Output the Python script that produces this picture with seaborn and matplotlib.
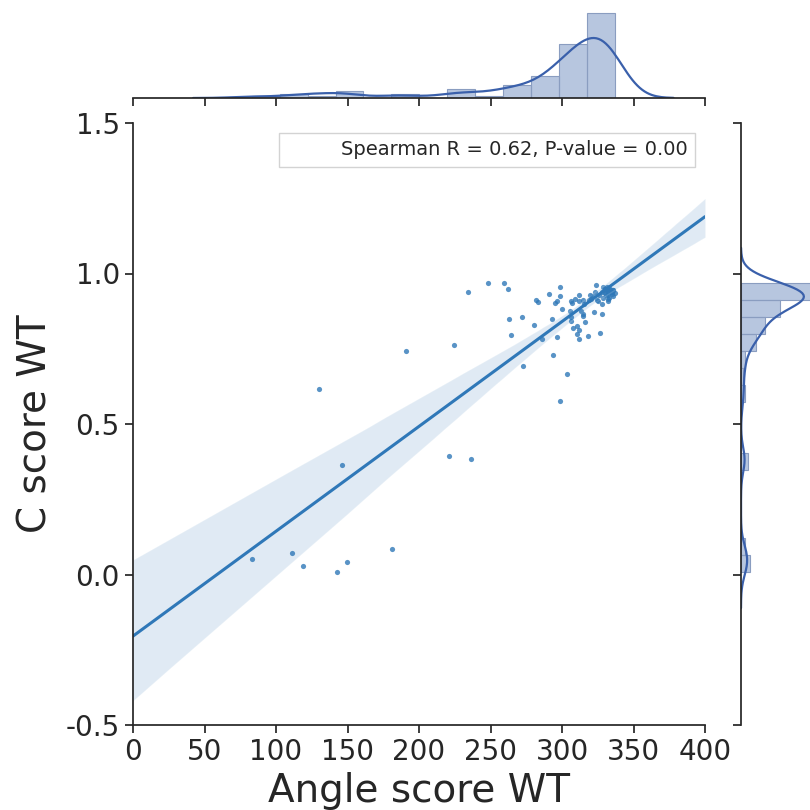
import numpy as np
import pandas as pd
import matplotlib
matplotlib.use("Agg")
import matplotlib.pyplot as plt
from matplotlib.lines import Line2D
import seaborn as sns

angle_wt = [83.0, 111.2, 119.1, 129.9, 142.9, 146.2, 149.4, 181.1, 190.7, 221.0,
            224.5, 234.3, 236.4, 248.0, 259.2, 262.2, 262.9, 264.1, 272.2, 272.5,
            280.2, 281.6, 283.4, 285.8, 290.9, 293.2, 293.9, 295.1, 296.5, 298.6,
            298.3, 296.5, 298.5, 299.8, 303.7, 305.4, 306.1, 306.3, 306.3, 307.2,
            307.9, 310.3, 311.7, 310.3, 311.9, 312.1, 311.9, 314.9, 313.3, 314.5,
            314.7, 316.3, 318.0, 318.9, 320.1, 322.4, 323.3, 323.6, 324.3, 325.0,
            326.4, 327.8, 327.8, 328.7, 329.9, 330.8, 331.9, 332.9, 334.7, 335.4,
            330.1, 332.2, 331.9, 332.4, 335.9, 334.7, 309.0, 315.5, 326.0, 328.0,
            329.0, 330.0, 331.0, 331.5, 332.5, 333.0, 333.5, 334.0, 336.0, 337.0,
            321.0, 319.5]
c_wt = [0.050, 0.072, 0.029, 0.616, 0.007, 0.365, 0.041, 0.085, 0.742, 0.394,
        0.761, 0.940, 0.384, 0.967, 0.967, 0.950, 0.850, 0.796, 0.854, 0.692,
        0.828, 0.913, 0.904, 0.783, 0.933, 0.850, 0.729, 0.903, 0.909, 0.925,
        0.955, 0.789, 0.576, 0.882, 0.667, 0.875, 0.856, 0.843, 0.909, 0.901,
        0.820, 0.826, 0.812, 0.799, 0.783, 0.930, 0.909, 0.912, 0.876, 0.865,
        0.859, 0.840, 0.791, 0.912, 0.914, 0.872, 0.939, 0.962, 0.912, 0.908,
        0.802, 0.899, 0.864, 0.955, 0.948, 0.945, 0.942, 0.948, 0.938, 0.945,
        0.935, 0.928, 0.908, 0.916, 0.924, 0.932, 0.915, 0.900, 0.930, 0.940,
        0.920, 0.950, 0.930, 0.955, 0.935, 0.920, 0.950, 0.940, 0.945, 0.935,
        0.925, 0.930]
annotation = "Spearman R = 0.62, P-value = 0.00"
x_label = "Angle score WT"
y_label = "C score WT"
x_ticks = [0, 50, 100, 150, 200, 250, 300, 350, 400]
y_ticks = [-0.5, 0.0, 0.5, 1.0, 1.5]
y_ticklabels = ["-0.5", "0.0", "0.5", "1.0", "1.5"]

df = pd.DataFrame({x_label: angle_wt, y_label: c_wt})

sns.set_style("ticks")
plt.rcParams["font.family"] = ["DejaVu Sans"]
plt.rcParams["axes.edgecolor"] = ".15"
plt.rcParams["axes.linewidth"] = 1.25
plt.rcParams["xtick.color"] = ".15"
plt.rcParams["ytick.color"] = ".15"

reg_color = "#2f78b8"
marg_color = "#4C72B0"
kde_color = "#3a60ab"

W = H = 810
fig = plt.figure(figsize=(8.1, 8.1), dpi=100)

def box(l, t, r, b):
    return [l / W, 1 - b / H, (r - l) / W, (b - t) / H]

ax = fig.add_axes(box(133, 123, 705, 725))
axx = fig.add_axes(box(133, 9, 705, 98))
axy = fig.add_axes(box(741, 123, 837, 725))

ax.set_xlim(0, 400)
ax.set_ylim(-0.5, 1.5)
sns.regplot(data=df, x=x_label, y=y_label, ax=ax, truncate=False,
            color=reg_color, seed=3,
            scatter_kws=dict(s=14, linewidths=0),
            line_kws=dict(lw=2.2))
ax.set_xlim(0, 400)
ax.set_ylim(-0.5, 1.5)
ax.set_xticks(x_ticks)
ax.set_yticks(y_ticks)
ax.set_xticklabels([str(t) for t in x_ticks])
ax.set_yticklabels(y_ticklabels)
ax.tick_params(labelsize=20, length=6, width=1.25, direction="out")
ax.set_xlabel(x_label, fontsize=28, labelpad=4)
ax.set_ylabel(y_label, fontsize=28)
ax.yaxis.set_label_coords(-0.138, 0.5)
sns.despine(ax=ax)

leg = ax.legend([Line2D([], [], linewidth=0)], [annotation], loc="upper right",
                fontsize=14, fancybox=False, frameon=True, borderpad=0.4,
                handlelength=2.0)
leg.get_frame().set_edgecolor("#c8c8c8")
leg.get_frame().set_linewidth(1.0)


def scott_factor(v):
    v = np.asarray(v)
    sd = v.std(ddof=1)
    iqr = np.subtract(*np.percentile(v, [75, 25]))
    a = min(sd, iqr / 1.349)
    return 1.059 * a * len(v) ** (-0.2) / sd


# top marginal
sns.histplot(x=df[x_label], bins=13, stat="density", ax=axx, color=marg_color,
             alpha=0.4, edgecolor="#8a9dc0", linewidth=0.8)
sns.kdeplot(x=df[x_label], ax=axx, color=kde_color, lw=1.6, cut=3,
            bw_method=scott_factor(angle_wt))
axx.set_xlim(0, 400)
axx.set_xticks(x_ticks)
axx.tick_params(labelbottom=False, left=False, labelleft=False, length=6,
                width=1.25)
axx.set_xlabel("")
axx.set_ylabel("")
sns.despine(ax=axx, left=True)

# right marginal
sns.histplot(y=df[y_label], bins=17, stat="density", ax=axy, color=marg_color,
             alpha=0.4, edgecolor="#8a9dc0", linewidth=0.8)
sns.kdeplot(y=df[y_label], ax=axy, color=kde_color, lw=1.6, cut=3,
            bw_method=scott_factor(c_wt))
axy.set_ylim(-0.5, 1.5)
axy.set_yticks(y_ticks)
axy.tick_params(labelleft=False, bottom=False, labelbottom=False, length=6,
                width=1.25)
axy.set_xlabel("")
axy.set_ylabel("")
sns.despine(ax=axy, bottom=True)

fig.savefig("out.png", dpi=100)
